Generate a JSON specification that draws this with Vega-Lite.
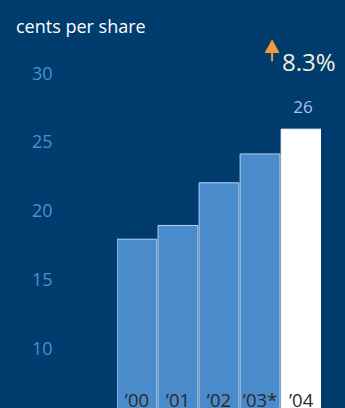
{
  "$schema": "https://vega.github.io/schema/vega-lite/v6.json",
  "width": 204,
  "height": 408,
  "autosize": {"type": "none"},
  "padding": {"left": 117, "top": 0, "right": 24, "bottom": 0},
  "background": "#003c6e",
  "config": {"view": {"stroke": null}, "font": "Open Sans"},
  "title": {"text": "cents per share", "anchor": "start", "frame": "group", "fontSize": 18, "fontWeight": "normal", "color": "#ffffff", "font": "Open Sans", "baseline": "alphabetic", "offset": 0, "dx": -101, "dy": 51},
  "data": {"values": [
    {"year": "’00", "value": 18.0, "note": null},
    {"year": "’01", "value": 19.0, "note": null},
    {"year": "’02", "value": 22.1, "note": null},
    {"year": "’03*", "value": 24.2, "note": null},
    {"year": "’04", "value": 26, "note": "8.3%"}
  ]},
  "encoding": {
    "x": {"field": "year", "type": "nominal", "sort": null,
      "scale": {"paddingInner": 0.03, "paddingOuter": 0},
      "axis": {"orient": "bottom", "title": null, "domain": false, "ticks": false, "tickSize": 0, "labelPadding": -2, "labelBaseline": "alphabetic", "labelAngle": 0, "labelFontSize": 18.5, "labelColor": "#2a2a2a", "labelFont": "Open Sans", "zindex": 1, "grid": false}},
    "y": {"field": "value", "type": "quantitative",
      "scale": {"domain": [5.73, 35.39], "nice": false, "zero": false},
      "axis": {"orient": "left", "title": null, "values": [10, 15, 20, 25, 30], "domain": false, "ticks": false, "grid": false, "labelPadding": 65, "labelFontSize": 18, "labelColor": "#4d8fd0", "labelFont": "Open Sans"}}
  },
  "layer": [
    {"mark": {"type": "bar", "clip": true, "strokeWidth": 1},
     "encoding": {
       "color": {"condition": {"test": "datum.note != null", "value": "#ffffff"}, "value": "#4a8ccb"},
       "stroke": {"condition": {"test": "datum.note != null", "value": "#ffffff"}, "value": "#b9d3ee"}
     }},
    {"transform": [{"filter": "datum.note != null"}],
     "mark": {"type": "text", "align": "center", "baseline": "alphabetic", "dx": 2, "dy": -16, "fontSize": 17, "color": "#a9c3e8", "font": "Open Sans"},
     "encoding": {"text": {"field": "value", "type": "quantitative"}}},
    {"transform": [{"filter": "datum.note != null"}],
     "mark": {"type": "text", "align": "left", "baseline": "alphabetic", "dx": -19, "dy": -58, "fontSize": 24, "color": "#f3efdc", "font": "Open Sans"},
     "encoding": {"text": {"field": "note", "type": "nominal"}}},
    {"transform": [{"filter": "datum.note != null"}],
     "mark": {"type": "point", "filled": true, "opacity": 1, "size": 484, "color": "#f39a3c", "strokeWidth": 0, "xOffset": -29, "yOffset": -79,
       "shape": "M0,-1L0.68,0.26L0.09,0.26L0.09,1L-0.09,1L-0.09,0.26L-0.68,0.26Z"},
     "encoding": {}}
  ]
}
